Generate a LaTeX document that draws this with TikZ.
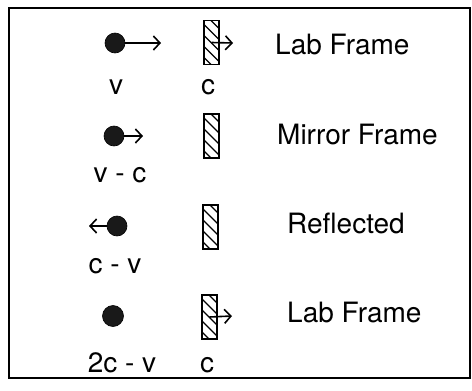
\documentclass[tikz,border=0pt]{standalone}
\usepackage{fontspec}
\setmainfont{TeX Gyre Heros}
\usetikzlibrary{arrows.meta}
\begin{document}
\begin{tikzpicture}[x=1pt,y=-1pt,
  ball/.style={circle,fill=black!90,draw=black,line width=0.6pt,minimum size=20pt,inner sep=0pt},
  mirror/.style={draw=black,line width=1.5pt,minimum width=15pt,minimum height=44pt,inner sep=0pt,
    path picture={\foreach \k in {-18,-7,...,44}{\draw[line width=1.2pt] ([yshift=-\k pt]path picture bounding box.north west) -- ++(30pt,-30pt);}}},
  vel/.style={-{Straight Barb[length=6.5pt,width=14pt,line width=1.6pt]},line width=1.6pt},
  lbl/.style={inner sep=0pt,anchor=base,font=\fontsize{28}{32}\selectfont},
  ttl/.style={inner sep=0pt,anchor=west,font=\fontsize{28}{32}\selectfont}]
\useasboundingbox (0,0) rectangle (472,391);
\draw[line width=1.5pt] (9,8) rectangle (470,378);
% row 1
\node[ball] (b1) at (115,43) {};
\node[mirror] (m1) at (211.5,42.5) {};
\coordinate (b1e) at (161,43);
\coordinate (m1e) at (233,43);
\draw[vel] (b1) -- (b1e);
\draw[vel] (m1.center) -- (m1e);
\node[ttl] (t1) at (275,45) {Lab Frame};
\node[lbl] (l1) at (116,94) {v};
\node[lbl] (c1) at (208,94) {c};
% row 2
\node[ball] (b2) at (114,136) {};
\node[mirror] (m2) at (211.5,136) {};
\coordinate (b2e) at (143,136);
\draw[vel] (b2) -- (b2e);
\node[ttl] (t2) at (277,135) {Mirror Frame};
\node[lbl] (l2) at (120,182) {v - c};
% row 3
\node[ball] (b3) at (117,226) {};
\node[mirror] (m3) at (210.5,227) {};
\coordinate (b3e) at (89,226);
\draw[vel] (b3) -- (b3e);
\node[ttl] (t3) at (287,223) {Reflected};
\node[lbl] (l3) at (115,273) {c - v};
% row 4
\node[ball,minimum size=21pt] (b4) at (113,316) {};
\node[mirror] (m4) at (209.5,317) {};
\coordinate (m4e) at (232,316);
\draw[vel] (m4.center) -- (m4e);
\node[ttl] (t4) at (287,313) {Lab Frame};
\node[lbl] (l4) at (122,372) {2c - v};
\node[lbl] (c4) at (207,372) {c};
\end{tikzpicture}
\end{document}
